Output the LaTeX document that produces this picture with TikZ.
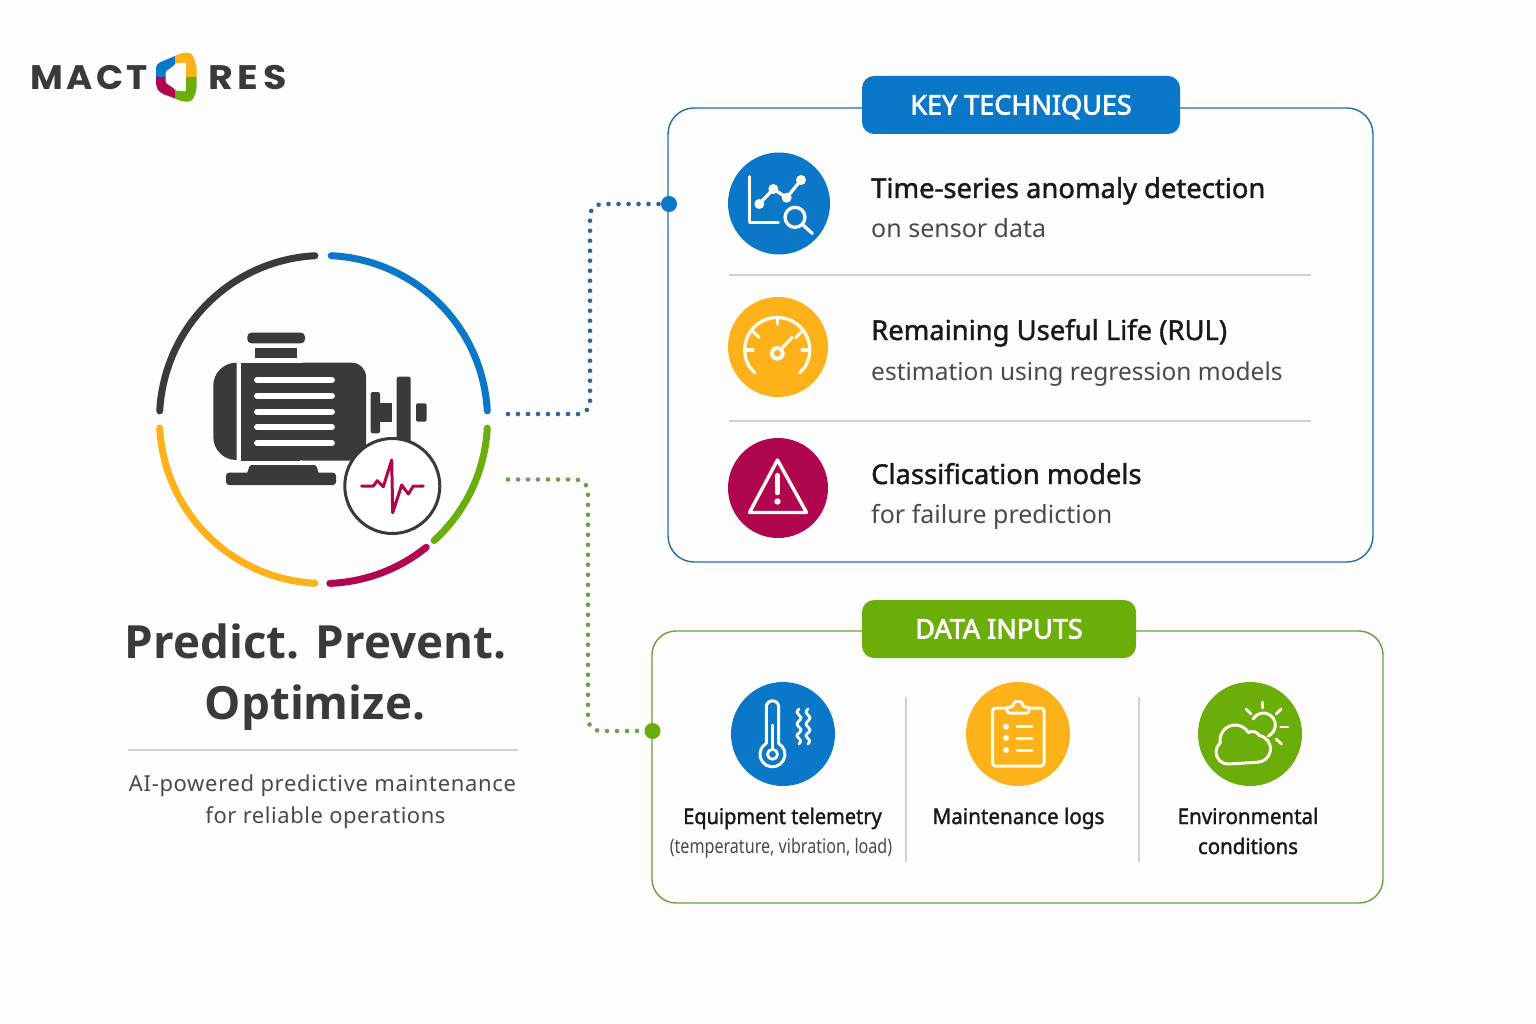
\documentclass[tikz,border=0pt]{standalone}
\usepackage{fontspec}
\setmainfont{Noto Sans}
\newfontfamily\med[FakeBold=1.5]{Noto Sans}
\newfontfamily\badgef[FakeBold=2.6]{Noto Sans}
\newfontfamily\headf{Open Sans}
\newfontfamily\logofont[LetterSpace=10]{Poppins}
\definecolor{cblue}{HTML}{0B77C8}
\definecolor{cyellow}{HTML}{FDB21A}
\definecolor{ccrim}{HTML}{B0064F}
\definecolor{cgreen}{HTML}{6BAE0A}
\definecolor{cdark}{HTML}{3A3A3C}
\definecolor{bdblue}{HTML}{1F6EA8}
\definecolor{bdgreen}{HTML}{68A03C}
\definecolor{dotblue}{HTML}{2F6596}
\definecolor{dotgreen}{HTML}{6E9E50}
\definecolor{rulegrey}{HTML}{D3D3D3}
\definecolor{subgrey}{HTML}{4A4A4C}
\definecolor{bgc}{HTML}{FDFDFD}
\definecolor{icw}{HTML}{FFFBEF}
\newcommand{\ringarc}[3]{\draw[line width=7pt,line cap=round,#1] plot[smooth,domain=#2:#3,samples=40] ({323.5+164*cos(\x)},{419.5-164*sin(\x)});}
\newcommand{\logoseg}[5]{\begin{scope}\clip (#2,#3) rectangle (#4,#5);
 \fill[#1,even odd rule] [rounded corners=4pt] (156,64)--(175,56)--(181.7,52.7)--(192,52.7)--(196.7,66)--(196.7,90)--(192,101.7)--(181.7,101.7)--(175,98.3)--(160,93)--(156,87)--cycle
 [rounded corners=1pt] (165.7,71.5)--(174.5,65)--(175,63.5)--(186,62.5)--(186,91.5)--(175,90.5)--(174.5,89)--(165.7,83)--cycle;
 \end{scope}}
\tikzset{
 x=1pt,y=-1pt,
 panelbox/.style={draw,fill=bgc,line width=1.4pt,rounded corners=26pt,inner sep=0pt},
 badge/.style={rounded corners=12pt,inner sep=0pt,text=white,text height=19pt,text depth=0pt,font=\fontsize{27}{30}\selectfont\badgef},
 disc/.style={circle,inner sep=0pt,minimum size=#1},
 enddot/.style={circle,inner sep=0pt,minimum size=16pt},
 dotted link/.style={line width=4.6pt,line cap=round,dash pattern=on 0pt off 10pt,rounded corners=12pt},
 ico/.style={draw=icw,line width=3.3pt,line cap=round,line join=round},
 ttl/.style={anchor=base west,inner sep=0pt,text=black!90,font=\fontsize{27.4}{32}\selectfont\med},
 sbt/.style={anchor=base west,inner sep=0pt,text=subgrey,font=\fontsize{25}{30}\selectfont},
 lbl/.style={anchor=base,inner sep=0pt,text=black!90,font=\fontsize{21.5}{26}\selectfont\med},
 hrule/.style={draw=rulegrey,line width=1.2pt},
 headl/.style={anchor=base,inner sep=0pt,text=cdark,font=\fontsize{45.7}{54}\selectfont\headf\bfseries},
 logot/.style={anchor=base west,inner sep=0pt,text=cdark,font=\fontsize{34}{40}\selectfont\logofont\bfseries},
}
\begin{document}
\begin{tikzpicture}
\useasboundingbox (0,0) rectangle (1536,1024);
\fill[bgc] (0,0) rectangle (1536,1024);
% logo
\node[logot] (logoA) at (30,89.5) {\addfontfeatures{FakeStretch=1.05}MACT};
\node[logot] (logoB) at (208,89.5) {\addfontfeatures{FakeStretch=1.12,LetterSpace=14}RES};
\logoseg{cblue}{150}{45}{175}{77.5}
\logoseg{cyellow}{175}{45}{200}{77.5}
\logoseg{ccrim}{150}{77.5}{175}{110}
\logoseg{cgreen}{175}{77.5}{200}{110}
% ring
\ringarc{cdark}{177}{93}
\ringarc{cblue}{87.3}{3}
\ringarc{cgreen}{-3}{-47.6}
\ringarc{ccrim}{-51.2}{-87.8}
\ringarc{cyellow}{-93}{-177}
% motor
\fill[cdark,rounded corners=4pt] (247.3,332.7) rectangle (305,343.3);
\fill[cdark] (255,347.7) rectangle (296.7,358.3);
\fill[cdark,rounded corners=23pt] (236.7,362.7)--(213.3,362.7)--(213.3,460)--(236.7,460);
\fill[cdark] (241.3,362.7) -- (241.3,460.7) -- (300,460.7) -- (300,362.7)--cycle;
\fill[cdark,rounded corners=14pt] (290,362.7) -- (366,362.7) -- (366,460.7) -- (290,460.7)--cycle;
\foreach \yy in {380,395.7,411.7,427.3,443.3}
  \draw[white,line width=5.8pt,line cap=round] (257,\yy) -- (332,\yy);
\fill[cdark,rounded corners=1.5pt] (246.7,474)--(250,465)--(316,465)--(319,474)--cycle;
\fill[cdark,rounded corners=3pt] (226,472.7) rectangle (336,485);
\fill[cdark,rounded corners=2pt] (370.7,392) rectangle (380,433.3);
\fill[cdark] (378,403.3) rectangle (392.3,421.7);
\fill[cdark,rounded corners=2pt] (396.7,376.7) rectangle (410.7,445);
\fill[cdark,rounded corners=2pt] (416,403.3) rectangle (426.7,421.7);
\node[disc=95pt,draw=cdark,fill=white,line width=3pt] (pulse) at (392.3,486) {};
\draw[ccrim,line width=3pt,line cap=round,line join=round] (361.7,486)--(373.3,486)--(377.3,480.7)--(383.3,486.7)--(391.7,460)--(392.7,512.7)--(401.7,485)--(408.3,494)--(413.3,486)--(423.3,486);
% left text
\node[headl] (tA) at (315.5,658) {Predict. Prevent.};
\node[headl] (tB) at (315,719) {Optimize.};
\draw[hrule] (128,750) -- (518,750);
\node[anchor=base,inner sep=0pt,text=subgrey,font=\fontsize{22}{26}\selectfont] (tC) at (322.5,791) {\addfontfeatures{LetterSpace=3}AI-powered predictive maintenance};
\node[anchor=base,inner sep=0pt,text=subgrey,font=\fontsize{22}{26}\selectfont] (tD) at (325.5,823) {\addfontfeatures{LetterSpace=2.5}for reliable operations};
% panels
\node[panelbox,draw=bdblue,minimum width=705pt,minimum height=454pt] (panelA) at (1020.5,335) {};
\node[panelbox,draw=bdgreen,minimum width=731pt,minimum height=272pt,rounded corners=24pt] (panelB) at (1017.5,767) {};
\node[badge,fill=cblue,minimum width=318pt,minimum height=58pt] (badgeA) at (1021,105) {KEY TECHNIQUES};
\node[badge,fill=cgreen,minimum width=274pt,minimum height=58pt] (badgeB) at (999,629) {DATA INPUTS};
% connectors
\node[enddot,fill=cblue] (dotA) at (669,204) {};
\node[enddot,fill=cgreen] (dotB) at (652.5,731) {};
\coordinate (startA) at (508,414);
\coordinate (startB) at (508,479.5);
\coordinate (turnA) at (590,300);
\coordinate (turnB) at (588,600);
\draw[dotted link,dotblue] (startA) -| (turnA) |- (dotA);
\draw[dotted link,dotgreen] (startB) -| (turnB) |- (dotB);
% key techniques rows
\node[disc=102pt,fill=cblue] (icA) at (779,203.5) {};
\draw[ico] (749.3,176.7)--(749.3,222.7)--(778.3,222.7);
\draw[ico] (759.3,204)--(773.3,189)--(786.7,197.7)--(801,180);
\foreach \p in {(759.3,204),(773.3,189),(786.7,197.7),(801,180)} \fill[icw] \p circle[radius=5pt];
\draw[ico] (795,217.3) circle[radius=10pt];
\draw[ico] (802.5,224.5)--(812.3,233.5);
\node[disc=100pt,fill=cyellow] (icB) at (778,347) {};
\draw[ico] (755,373) -- (749.4,366.7) arc[start angle=211,end angle=-31,radius=32.5pt] -- (799.6,373);
\draw[ico] (777.3,317.5)--(777.3,324);
\draw[ico] (746,350)--(753,350);
\draw[ico] (802,350)--(809,350);
\draw[ico] (753.3,331.7)--(759,337.4);
\draw[ico] (801.7,331.7)--(796,337.4);
\draw[ico,line width=4pt] (777.3,353.3) circle[radius=5.6pt];
\draw[ico,line width=3.2pt] (782.5,347.5)--(792.3,337.3);
\node[disc=100pt,fill=ccrim] (icC) at (778,488) {};
\draw[ico,line width=3.4pt] (777.5,460)--(749.5,512.5)--(806.5,512.5)--cycle;
\draw[ico,line width=4.4pt] (777.5,475)--(777.5,493);
\fill[icw] (777.5,501.5) circle[radius=3.2pt];
\draw[hrule] (729,275) -- (1311,275);
\draw[hrule] (729,421) -- (1311,421);
\node[ttl] (r1a) at (871,198) {Time-series anomaly detection};
\node[sbt] (r1b) at (871,238) {on sensor data};
\node[ttl] (r2a) at (871,340) {Remaining Useful Life (RUL)};
\node[sbt,font=\fontsize{24.5}{30}\selectfont] (r2b) at (871,380) {estimation using regression models};
\node[ttl] (r3a) at (871,484) {Classification models};
\node[sbt] (r3b) at (871,523) {for failure prediction};
% data inputs
\node[disc=104pt,fill=cblue] (icD) at (783,734) {};
\draw[ico,line width=3pt] (766.3,743.5)--(766.3,707) arc[start angle=180,end angle=0,radius=6.2pt]--(778.7,743.5) arc[start angle=60,end angle=-240,radius=12.5pt]--cycle;
\draw[ico,line width=2.8pt] (772.5,725)--(772.5,749);
\draw[ico,line width=2.8pt] (772.5,754.3) circle[radius=5pt];
\foreach \xx in {799,808}
  \draw[ico,line width=2.8pt] (\xx,709) .. controls (\xx-7,715) and (\xx+7,715) .. (\xx,721) .. controls (\xx-7,727) and (\xx+7,727) .. (\xx,733) .. controls (\xx-7,738) and (\xx+6,738) .. (\xx,744);
\node[disc=104pt,fill=cyellow] (icE) at (1018,734) {};
\draw[ico,rounded corners=3pt,line width=3pt] (1007,708)--(992.5,708)--(992.5,766)--(1044,766)--(1044,708)--(1029,708);
\draw[ico,rounded corners=2.5pt,line width=3pt] (1007,713)--(1007,707)--(1013,707)--(1014,701.5)--(1022,701.5)--(1023,707)--(1029,707)--(1029,713)--cycle;
\foreach \yy in {726.7,738,750}{
  \fill[icw] (1006,\yy) circle[radius=3pt];
  \draw[ico,line width=3pt] (1017,\yy)--(1032,\yy);
}
\node[disc=104pt,fill=cgreen] (icF) at (1250,734) {};
\draw[ico,line width=3pt] (1253,719) arc[start angle=150,end angle=-65,radius=12pt];
\draw[ico,line width=3pt] (1228,764) arc[start angle=270,end angle=130,radius=12pt] arc[start angle=190,end angle=30,radius=15.2pt] arc[start angle=120,end angle=30,radius=8pt] arc[start angle=80,end angle=-90,radius=13.5pt] --cycle;
\draw[ico,line width=2.8pt] (1262.7,702)--(1262.7,708);
\draw[ico,line width=2.8pt] (1246,709)--(1251,714);
\draw[ico,line width=2.8pt] (1281,709)--(1276,714);
\draw[ico,line width=2.8pt] (1280.5,727)--(1288,727);
\draw[ico,line width=2.8pt] (1276,739)--(1281.5,744);
\draw[hrule] (906,697) -- (906,862);
\draw[hrule] (1139,697) -- (1139,862);
\node[lbl] (d1a) at (782.5,824) {\addfontfeatures{FakeStretch=.93}Equipment telemetry};
\node[anchor=base,inner sep=0pt,text=subgrey,font=\fontsize{20}{24}\selectfont] (d1b) at (781,853) {\addfontfeatures{FakeStretch=.806}(temperature, vibration, load)};
\node[lbl] (d2a) at (1018.5,824) {\addfontfeatures{FakeStretch=.96}Maintenance logs};
\node[lbl] (d3a) at (1248,824) {\addfontfeatures{FakeStretch=.955}Environmental};
\node[lbl] (d3b) at (1248,854) {\addfontfeatures{FakeStretch=.95}conditions};
\end{tikzpicture}
\end{document}
